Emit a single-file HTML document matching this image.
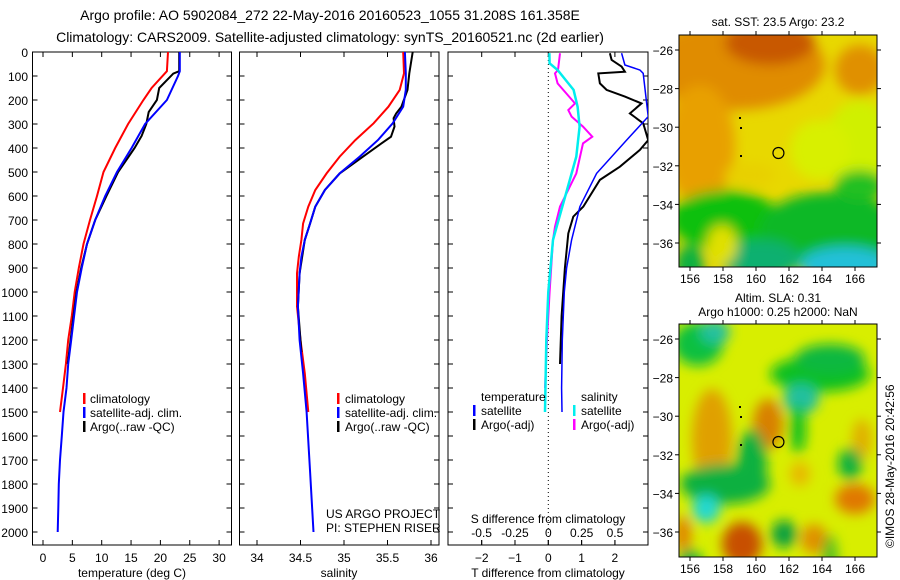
<!DOCTYPE html>
<html><head><meta charset="utf-8"><style>
body{margin:0;background:#fff;}
svg{display:block;font-family:"Liberation Sans",sans-serif;}
text{fill:#000;}
</style></head><body>
<svg id="c" width="900" height="580" viewBox="0 0 900 580" xmlns="http://www.w3.org/2000/svg">
<defs>
<filter id="bl" x="-50%" y="-50%" width="200%" height="200%"><feGaussianBlur stdDeviation="6"/></filter>
<clipPath id="cm1"><rect x="679" y="35" width="198" height="232"/></clipPath>
<clipPath id="cm2"><rect x="679" y="324" width="198" height="233"/></clipPath>
<clipPath id="cp1"><rect x="32.5" y="36" width="199" height="509"/></clipPath>
<clipPath id="cp2"><rect x="239.5" y="36" width="199.5" height="509"/></clipPath>
<clipPath id="cp3"><rect x="448" y="36" width="200" height="509"/></clipPath>
</defs>
<text x="330" y="20" text-anchor="middle" font-size="14">Argo profile: AO 5902084_272 22-May-2016 20160523_1055 31.208S 161.358E</text>
<text x="330" y="42" text-anchor="middle" font-size="14">Climatology: CARS2009. Satellite-adjusted climatology: synTS_20160521.nc (2d earlier)</text>
<g id="maps"></g>
<g id="plots"></g>
</svg>
<script>
// ---------- data ----------
const tClimDepth=[0,80,150,200,300,400,500,600,700,800,900,1000,1100,1200,1300,1400,1500];
const tClimVal=[21.3,21.1,18.5,17.1,14.5,12.3,10.3,9.2,8.0,6.9,6.1,5.4,4.9,4.3,3.9,3.4,2.9];
const tSatDepth=[0,80,100,200,300,400,500,600,700,800,900,1000,1100,1200,1300,1400,1500,1600,1700,1800,1900,2000];
const tSatVal=[23.3,23.3,23.0,21.1,17.4,15.1,12.6,10.6,8.9,7.5,6.6,5.8,5.3,4.8,4.3,4.0,3.5,3.2,2.9,2.7,2.6,2.5];
const tArgoDepth=[0,80,90,150,200,250,300,350,400,500,600,700,800,900,1000,1100,1200,1300];
const tArgoVal=[23.2,23.2,22.2,19.8,19.4,18.0,17.6,16.8,15.6,12.8,10.8,8.9,7.5,6.5,5.7,5.2,4.7,4.2];

const sClimDepth=[0,89,158,228,297,367,436,506,575,644,714,783,853,922,1061,1200,1339,1500];
const sClimVal=[35.68,35.69,35.64,35.51,35.34,35.13,34.95,34.80,34.67,34.59,34.53,34.51,34.48,34.46,34.46,34.50,34.55,34.59];
const sSatDepth=[0,89,158,228,297,367,436,506,575,644,714,783,853,922,1061,1200,1339,1500,1750,2000];
const sSatVal=[35.70,35.71,35.71,35.68,35.56,35.39,35.18,34.95,34.78,34.67,34.61,34.55,34.51,34.49,34.47,34.49,34.53,34.57,34.61,34.65];
const sArgoDepth=[0,89,158,228,256,276,311,353,381,436,506,575,644,714,783,922,1061,1250];
const sArgoVal=[35.79,35.75,35.73,35.66,35.60,35.57,35.58,35.54,35.43,35.22,34.95,34.78,34.67,34.61,34.55,34.49,34.47,34.51];

const dTSatDepth=[5,54,75,89,269,367,506,644,783,900,1000,1200,1400,1500];
const dTSatVal=[2.2,2.3,2.75,2.85,3.0,2.35,1.45,0.95,0.7,0.55,0.48,0.42,0.4,0.41];
const dTArgoDepth=[5,33,61,82,89,131,158,186,214,256,297,367,408,478,533,644,686,756,900,1100,1300];
const dTArgoVal=[1.85,1.9,2.2,2.3,1.5,1.55,1.75,2.3,2.8,2.45,2.85,3.0,2.75,2.15,1.55,1.05,0.75,0.6,0.5,0.4,0.35];
const dSArgoDepth=[5,75,89,131,214,242,269,311,353,381,506,644,728,783,1000,1200,1400];
const dSArgoVal=[0.088,0.073,0.05,0.07,0.2,0.15,0.175,0.26,0.33,0.26,0.21,0.088,0.05,0.035,0.01,-0.01,-0.025];
const dSSatDepth=[5,47,75,158,228,311,436,575,714,783,1000,1200,1500];
const dSSatVal=[0.008,0.01,0.07,0.19,0.22,0.235,0.21,0.14,0.07,0.035,0.0,-0.015,-0.025];

const depthTicks=[0,100,200,300,400,500,600,700,800,900,1000,1100,1200,1300,1400,1500,1600,1700,1800,1900,2000];
const tempTicks=[0,5,10,15,20,25,30];
const salTicks=["34","34.5","35","35.5","36"];
const dTTicks=[-2,-1,0,1,2];
const dSTicks=["-0.5","-0.25","0","0.25","0.5"];
const lonTicks=[156,158,160,162,164,166];
const latTicks=[-26,-28,-30,-32,-34,-36];

// ---------- helpers ----------
const NS="http://www.w3.org/2000/svg";
const plots=document.getElementById('plots');
const maps=document.getElementById('maps');
function mk(tag,attrs,parent){const e=document.createElementNS(NS,tag);for(const k in attrs)e.setAttribute(k,attrs[k]);(parent||plots).appendChild(e);return e;}
const yD=d=>52+0.24*d;
const xT=t=>43+5.87*t;
const xS=s=>257+87*(s-34);
const xdT=t=>548.3+33.3*t;
const xdS=s=>548.3+133.3*s;

function line(xs,ds,xf,color,w,clip,name){
  const pts=ds.map((d,i)=>xf(xs[i]).toFixed(1)+','+yD(d).toFixed(1)).join(' ');
  const p=mk('polyline',{points:pts,fill:'none',stroke:color,'stroke-width':w,'clip-path':'url(#'+clip+')'});
  
  
}
function frame(x0,x1,name){
  const r=mk('rect',{x:x0,y:52,width:x1-x0,height:493,fill:'none',stroke:'#000','stroke-width':1});
  
  
}
function vtick(x){mk('line',{x1:x,x2:x,y1:545,y2:540,stroke:'#000'});mk('line',{x1:x,x2:x,y1:52,y2:57,stroke:'#000'});}
function htick(x0,x1,y){mk('line',{x1:x0,x2:x0+5,y1:y,y2:y,stroke:'#000'});mk('line',{x1:x1-5,x2:x1,y1:y,y2:y,stroke:'#000'});}
function txt(x,y,s,anchor,size,name){const t=mk('text',{x:x,y:y,'text-anchor':anchor||'start','font-size':size||12});t.textContent=s;return t;}
function legMark(x,y,color){mk('rect',{x:x,y:y-10,width:2.5,height:11,fill:color});}

// ---------- panel 1: temperature ----------
frame(32.5,231.5,'temperature-panel');
depthTicks.forEach(d=>{htick(32.5,231.5,yD(d));txt(28,yD(d)+5,String(d),'end',12,'depth-tick-label');});
tempTicks.forEach(t=>{vtick(xT(t));txt(xT(t),562,String(t),'middle',12,'temp-tick-label');});
txt(132,577,'temperature (deg C)','middle',12,'temperature-axis-title');
line(tClimVal,tClimDepth,xT,'#ff0000',2,'cp1','temp-climatology-line');
line(tArgoVal,tArgoDepth,xT,'#000000',2,'cp1','temp-argo-line');
line(tSatVal,tSatDepth,xT,'#0000ff',2,'cp1','temp-satellite-line');
legMark(83,403,'#ff0000');txt(90,403,'climatology','start',12,'legend-climatology');
legMark(83,417,'#0000ff');txt(90,417,'satellite-adj. clim.','start',12,'legend-satellite');
legMark(83,431,'#000000');txt(90,431,'Argo(..raw -QC)','start',12,'legend-argo');

// ---------- panel 2: salinity ----------
frame(239.5,439,'salinity-panel');
depthTicks.forEach(d=>htick(239.5,439,yD(d)));
salTicks.forEach(s=>{vtick(xS(+s));txt(xS(+s),562,s,'middle',12,'salinity-tick-label');});
txt(339,577,'salinity','middle',12,'salinity-axis-title');
line(sClimVal,sClimDepth,xS,'#ff0000',2,'cp2','sal-climatology-line');
line(sArgoVal,sArgoDepth,xS,'#000000',2,'cp2','sal-argo-line');
line(sSatVal,sSatDepth,xS,'#0000ff',2,'cp2','sal-satellite-line');
legMark(337,403,'#ff0000');txt(345,403,'climatology','start',12,'legend-climatology-2');
legMark(337,417,'#0000ff');txt(345,417,'satellite-adj. clim.','start',12,'legend-satellite-2');
legMark(337,431,'#000000');txt(345,431,'Argo(..raw -QC)','start',12,'legend-argo-2');
txt(326,518,'US ARGO PROJECT','start',12,'project-label');
txt(326,532,'PI: STEPHEN RISER','start',12,'pi-label');

// ---------- panel 3: differences ----------
frame(448,648,'difference-panel');
depthTicks.forEach(d=>htick(448,648,yD(d)));
mk('line',{x1:548.3,x2:548.3,y1:52,y2:545,stroke:'#000','stroke-dasharray':'1,3'});
dTTicks.forEach(t=>{vtick(xdT(t));txt(xdT(t),562,t<0?'\u2212'+Math.abs(t):String(t),'middle',12,'dT-tick-label');});
dSTicks.forEach(s=>{mk('line',{x1:xdS(+s),x2:xdS(+s),y1:545,y2:540,stroke:'#000'});txt(xdS(+s),537,s,'middle',12,'dS-tick-label');});
txt(548,577,'T difference from climatology','middle',12,'dT-axis-title');
txt(548,523,'S difference from climatology','middle',12,'dS-axis-title');
line(dTArgoVal,dTArgoDepth,xdT,'#000000',2,'cp3','dT-argo-line');
line(dTSatVal,dTSatDepth,xdT,'#0000ff',1.5,'cp3','dT-satellite-line');
line(dSArgoVal,dSArgoDepth,xdS,'#ff00ff',2,'cp3','dS-argo-line');
line(dSSatVal,dSSatDepth,xdS,'#00eeee',2.5,'cp3','dS-satellite-line');
txt(481,401,'temperature','start',12,'legend-temperature-heading');
txt(581,401,'salinity','start',12,'legend-salinity-heading');
legMark(473,415,'#0000ff');txt(481,415,'satellite','start',12,'legend-dT-satellite');
legMark(473,429,'#000000');txt(481,429,'Argo(-adj)','start',12,'legend-dT-argo');
legMark(573,415,'#00eeee');txt(581,415,'satellite','start',12,'legend-dS-satellite');
legMark(573,429,'#ff00ff');txt(581,429,'Argo(-adj)','start',12,'legend-dS-argo');

// ---------- maps ----------
const xL=l=>690+16.5*(l-156);
function mapAxes(y0,y1,latY,name){
  const r=mk('rect',{x:679,y:y0,width:198,height:y1-y0,fill:'none',stroke:'#000'},maps);
  
  
  lonTicks.forEach(l=>{const x=xL(l);mk('line',{x1:x,x2:x,y1:y0-4,y2:y0,stroke:'#000'},maps);mk('line',{x1:x,x2:x,y1:y1,y2:y1+4,stroke:'#000'},maps);
    const t=mk('text',{x:x,y:y1+16,'text-anchor':'middle','font-size':12},maps);t.textContent=String(l);});
  latTicks.forEach(l=>{const y=latY(l);mk('line',{x1:675,x2:679,y1:y,y2:y,stroke:'#000'},maps);mk('line',{x1:877,x2:881,y1:y,y2:y,stroke:'#000'},maps);
    const t=mk('text',{x:673,y:y+5,'text-anchor':'end','font-size':12},maps);t.textContent='\u2212'+Math.abs(l);});
}
function blobs(clip,base,y0,list){
  const g=mk('g',{'clip-path':'url(#'+clip+')'},maps);
  mk('rect',{x:679,y:y0,width:198,height:233,fill:base},g);
  const f=mk('g',{filter:'url(#bl)'},g);
  list.forEach(b=>mk('ellipse',{cx:b[0],cy:b[1]+y0,rx:b[2],ry:b[3],fill:b[4]},f));
  return g;
}
function marks(g,y0){
  mk('circle',{cx:xL(161.36),cy:y0+118,r:5.5,fill:'none',stroke:'#000','stroke-width':1.2},g);
  [[739,82],[740,92],[740,120]].forEach(p=>mk('rect',{x:p[0],y:p[1]+y0,width:2,height:2,fill:'#000'},g));
}
// SST map
const m1=blobs('cm1','#e8d800',35,[
 [735,30,90,45,'#e08c00'],[770,8,45,22,'#c85800'],[700,110,35,60,'#e8a000'],[860,35,25,25,'#e09000'],
 [860,110,35,45,'#d0f000'],[820,115,30,30,'#d8f000'],[725,185,55,30,'#10c010'],[830,195,70,38,'#10b828'],
 [860,150,25,15,'#20c020'],[760,225,40,20,'#10b070'],[845,230,45,18,'#20c0d8'],[722,210,15,20,'#e0e000'],
 [690,230,15,20,'#10b040'],[750,140,25,12,'#e8d000']]);
marks(m1,35);
mapAxes(35,267,l=>50-19.3*(l+26),'sst-map');
txt(778,26,'sat. SST: 23.5 Argo: 23.2','middle',12,'sst-map-title');
// SLA map
const m2=blobs('cm2','#d8ee00',324,[
 [698,20,25,22,'#10c040'],[715,8,15,12,'#20c0a0'],[820,50,50,18,'#10c020'],[830,35,35,15,'#10b840'],
 [801,75,18,15,'#20c0a0'],[798,105,8,25,'#10c020'],[712,115,20,50,'#e0a000'],[768,100,15,25,'#d88000'],
 [725,160,45,20,'#10b040'],[752,140,15,35,'#10b040'],[706,185,14,14,'#20d8d0'],[862,115,10,20,'#e0b000'],
 [855,175,20,15,'#e07800'],[850,140,12,16,'#10b040'],[742,220,20,22,'#c85000'],[784,210,13,14,'#10a040'],
 [814,215,13,15,'#e09000'],[683,210,8,18,'#e08000'],[800,150,10,12,'#e8b800'],[690,240,12,15,'#10b040'],
 [830,240,8,30,'#50c020']]);
marks(m2,324);
mapAxes(324,557,l=>339-19.3*(l+26),'sla-map');
txt(778,302,'Altim. SLA: 0.31','middle',12,'sla-map-title-1');
txt(778,316,'Argo h1000: 0.25 h2000: NaN','middle',12,'sla-map-title-2');
const cr=mk('text',{x:0,y:0,'font-size':12,transform:'translate(894,548) rotate(-90)'},maps);
cr.textContent='\u00a9IMOS 28-May-2016 20:42:56';


</script>
</body></html>
